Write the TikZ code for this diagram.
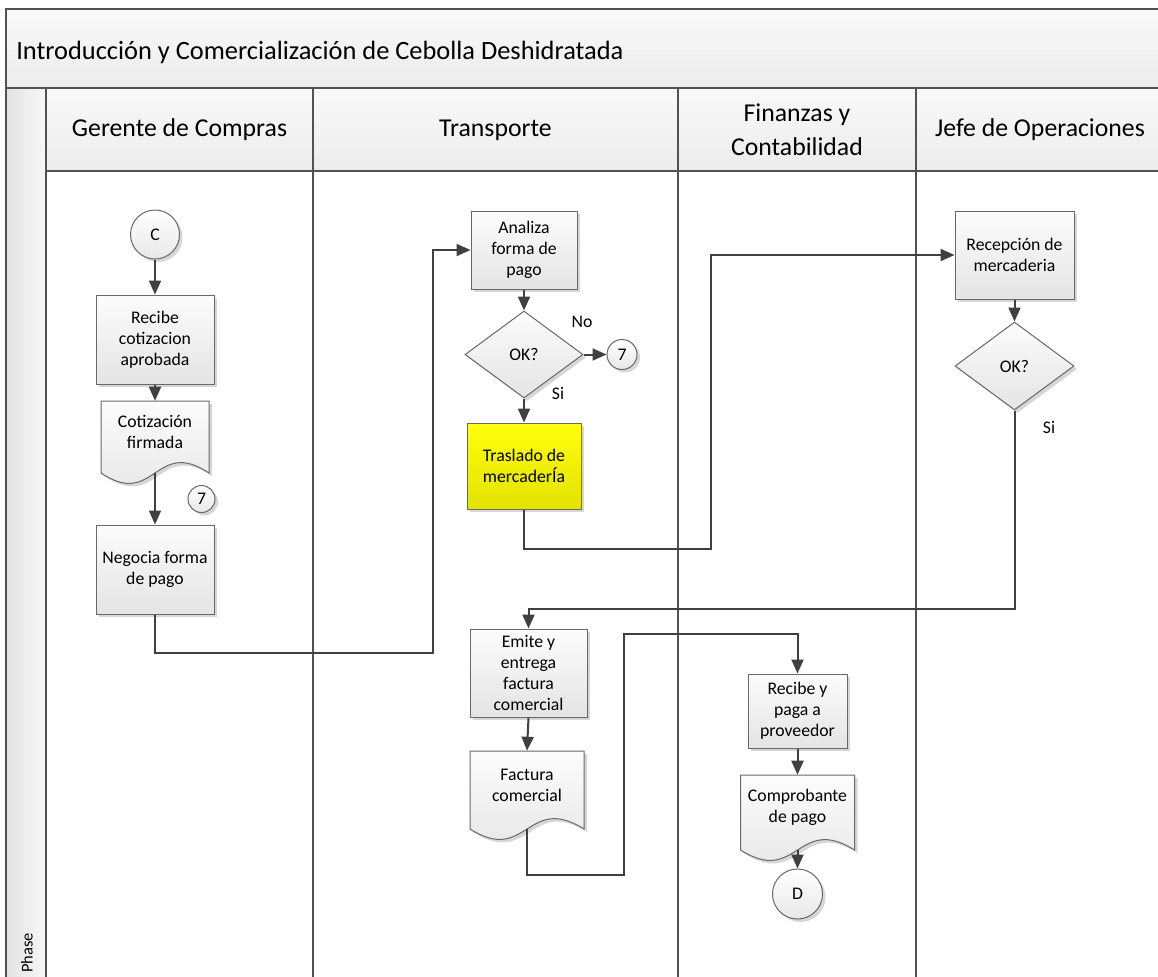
\documentclass[tikz,border=0pt]{standalone}
\usepackage{fontspec}
\setmainfont{Carlito}
\usetikzlibrary{shapes.geometric,arrows.meta,shadows}

\definecolor{ink}{RGB}{64,64,64}
\definecolor{frameln}{RGB}{82,82,82}
\definecolor{edge}{RGB}{105,105,105}
\definecolor{shadowgray}{RGB}{214,214,214}
\definecolor{fillhi}{RGB}{252,252,252}
\definecolor{filllo}{RGB}{228,228,228}
\definecolor{bandhi}{RGB}{249,249,249}
\definecolor{bandlo}{RGB}{236,236,236}
\definecolor{yelhi}{RGB}{255,255,12}
\definecolor{yello}{RGB}{226,226,0}

\newcommand\boxfont{\fontsize{13.3pt}{15.75pt}\selectfont}
\newcommand\headfont{\fontsize{19.3pt}{25.5pt}\selectfont}
\newcommand\titlefont{\fontsize{19.8pt}{25.5pt}\selectfont}

\tikzset{
  shd/.style={drop shadow={shadow xshift=2.25pt, shadow yshift=-2.25pt, fill=shadowgray, opacity=1}},
  sz/.style 2 args={minimum width={#1*0.75pt}, minimum height={#2*0.75pt}},
  txt/.style={font=\boxfont, align=center, inner sep=0pt, text=black},
  flowbox/.style={rectangle, draw=edge, line width=0.75pt, top color=fillhi, bottom color=filllo, shd, txt},
  hilite/.style={flowbox, top color=yelhi, bottom color=yello},
  decision/.style={diamond, draw=edge, line width=0.75pt, top color=fillhi, bottom color=filllo, shd, txt},
  roundel/.style={circle, draw=edge, line width=0.75pt, top color=white, bottom color=white!91!black, shd, txt},
  docshape/.style={draw=edge, line width=0.75pt, top color=fillhi, bottom color=filllo, shd},
  flow/.style={draw=ink, line width=1.5pt},
  arr/.style={flow, -{Triangle[length=10.5pt, width=9pt]}},
  frame/.style={draw=frameln, line width=1.1pt},
  headtext/.style={font=\headfont, align=center, inner sep=0pt, text=black},
  note/.style={font=\boxfont, inner sep=0pt, text=black},
}

% document symbol with a wavy lower edge: name, centre x, top y, width, edge height, text
\newcommand\docnode[6]{%
  \path[docshape] ({#2-#4/2},#3) -- ({#2+#4/2},#3) -- ({#2+#4/2},{#3+#5})
    .. controls ({#2},{#3+#5-36}) and ({#2},{#3+#5+36}) .. ({#2-#4/2},{#3+#5}) -- cycle;
  \node[inner sep=0pt, sz={#4}{#5}] (#1) at (#2,{#3+#5/2}) {};
  \node[txt] (#1-text) at (#2,{#3+#5/2-5}) {#6};
}

\begin{document}
\begin{tikzpicture}[x=0.75pt, y=-0.75pt]
\useasboundingbox (0,0) rectangle (1158,976);
\clip (0,0) rectangle (1158,976);
\fill[white] (0,0) rectangle (1158,976);

% pool title band, lane headers and phase strip
\shade[top color=bandhi, bottom color=bandlo] (6,9) rectangle (1170,88);
\shade[top color=bandhi, bottom color=bandlo] (46,88) rectangle (1170,171);
\shade[left color=white!89!black, right color=white!97!black] (6,88) rectangle (46,990);

\draw[frame] (1170,9) -- (6,9) -- (6,990);
\draw[frame] (6,88) -- (1170,88);
\draw[frame] (46,171) -- (1170,171);
\foreach \x in {46,313,678,916} \draw[frame] (\x,88) -- (\x,990);

\node[headtext, font=\titlefont, anchor=west] (title) at (16,52) {Introducción y Comercialización de Cebolla Deshidratada};
\node[headtext] (laneA) at (179.5,130) {Gerente de Compras};
\node[headtext] (laneB) at (495.5,130) {Transporte};
\node[headtext] (laneC) at (797,130) {Finanzas y\\Contabilidad};
\node[headtext] (laneD) at (1040,130) {Jefe de Operaciones};
\node[font=\fontsize{12.4pt}{14pt}\selectfont, rotate=90, inner sep=0pt] (phase) at (27,953) {Phase};

% Gerente de Compras
\node[roundel, minimum size={49*0.75pt}] (cC) at (155,234.5) {C};
\node[flowbox, sz={118}{89}] (recibe) at (155,339.5) {Recibe\\cotizacion\\aprobada};
\docnode{cotiz}{155}{401}{108}{72}{Cotización\\firmada}
\node[roundel, minimum size={27*0.75pt}] (seven1) at (201.5,499) {7};
\node[flowbox, sz={118}{89}] (negocia) at (155,569.5) {Negocia forma\\de pago};

% Transporte
\node[flowbox, sz={106}{78}] (analiza) at (524,250) {Analiza\\forma de\\pago};
\node[decision, sz={118}{87}] (ok1) at (524,354.5) {OK?};
\node[roundel, minimum size={30*0.75pt}] (seven2) at (622,354.5) {7};
\node[hilite, sz={114}{86}] (traslado) at (524,466) {Traslado de\\mercaderÍa};
\node[note] (lblNo) at (582,322) {No};
\node[note] (lblSi1) at (558,393) {Si};
\node[flowbox, sz={117}{88}] (emite) at (528.5,673) {Emite y\\entrega\\factura\\comercial};
\docnode{factura}{527}{751}{114}{78}{Factura\\comercial}

% Finanzas y Contabilidad
\node[flowbox, sz={99}{74}] (recibe2) at (797.5,711) {Recibe y\\paga a\\proveedor};
\docnode{comprob}{797.5}{775}{114}{75}{Comprobante\\de pago}
\node[roundel, minimum size={50*0.75pt}] (cD) at (797.5,894) {D};

% Jefe de Operaciones
\node[flowbox, sz={119}{88}] (recep) at (1014.5,255) {Recepción de\\mercaderia};
\node[decision, sz={119}{88}] (ok2) at (1014.5,366) {OK?};
\node[note] (lblSi2) at (1049,427) {Si};

% bends of the connectors
\coordinate (j1) at (433,653);
\coordinate (j2) at (711,549);
\coordinate (j3) at (528.5,609);
\coordinate (j4) at (624,875);
\coordinate (j5) at (797.5,634);

% connectors
\draw[arr] (cC.south) -- (recibe.north);
\draw[arr] (recibe.south) -- (cotiz.north);
\draw[arr] (cotiz.south) -- (negocia.north);
\draw[arr] (negocia.south) |- (j1) |- (analiza.west);
\draw[arr] (analiza.south) -- (ok1.north);
\draw[arr] (ok1.east) -- (seven2.west);
\draw[arr] (ok1.south) -- (traslado.north);
\draw[arr] (traslado.south) |- (j2) |- (recep.west);
\draw[arr] (recep.south) -- (ok2.north);
\draw[arr] (ok2.south) |- (j3) -- (emite.north);
\draw[arr] (emite.south) -- (factura.north);
\draw[arr] (factura.south) |- (j4) |- (j5) -- (recibe2.north);
\draw[arr] (recibe2.south) -- (comprob.north);
\draw[arr] (comprob.south) -- (cD.north);
\end{tikzpicture}
\end{document}
